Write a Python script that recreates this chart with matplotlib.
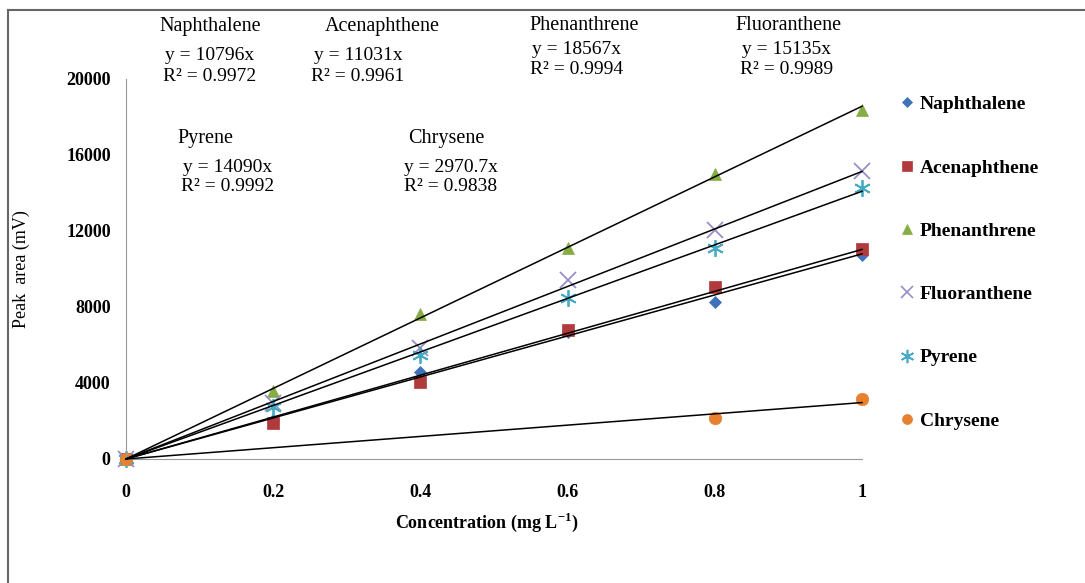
import numpy as np
import matplotlib.pyplot as plt
from matplotlib.lines import Line2D

plt.rcParams['font.family'] = ['Liberation Serif', 'DejaVu Serif']

conc = [0, 0.2, 0.4, 0.6, 0.8, 1.0]
naphthalene = [0, 2050, 4580, 6700, 8260, 10740]
acenaphthene = [0, 1890, 4050, 6790, 9050, 11050]
phenanthrene = [0, 3580, 7630, 11100, 15000, 18350]
fluoranthene = [0, 2950, 5840, 9420, 12050, 15160]
pyrene = [0, 2740, 5470, 8470, 11100, 14260]
chrysene_x = [0, 0.8, 1.0]
chrysene = [0, 2160, 3160]

names = ['Naphthalene', 'Acenaphthene', 'Phenanthrene', 'Fluoranthene', 'Pyrene', 'Chrysene']
slopes = [10796, 11031, 18567, 15135, 14090, 2970.7]
r2 = ['0.9972', '0.9961', '0.9994', '0.9989', '0.9992', '0.9838']
slope_txt = ['10796', '11031', '18567', '15135', '14090', '2970.7']

colors = ['#3f72b8', '#b13a3c', '#86ac44', '#9c8dc4', '#46aac4', '#e8812f']
markers = ['D', 's', '^', 'x', (6, 2, 0), 'o']
msizes = [6, 9, 9, 11, 12, 9]

fig = plt.figure(figsize=(10.85, 5.83), dpi=100)
ax = fig.add_axes([0.1161, 0.2127, 0.6784, 0.6518])

xs = [conc, conc, conc, conc, conc, chrysene_x]
ys = [naphthalene, acenaphthene, phenanthrene, fluoranthene, pyrene, chrysene]

xl = np.array([0, 1.0])
for s in slopes:
    ax.plot(xl, s * xl, color='black', lw=1.1, zorder=3, clip_on=False)

handles = []
for x, y, n, c, m, ms in zip(xs, ys, names, colors, markers, msizes):
    ax.plot(x, y, linestyle='none', marker=m, color=c, markersize=ms,
            markeredgewidth=1.3 if m in ('x', (6, 2, 0)) else 0.5,
            zorder=2, clip_on=False)
    handles.append(Line2D([], [], linestyle='none', marker=m, color=c,
                          markersize=ms * 0.8,
                          markeredgewidth=1.2 if m in ('x', (6, 2, 0)) else 0.5))

ax.set_xlim(0, 1)
ax.set_ylim(0, 20000)
ax.set_xticks([0, 0.2, 0.4, 0.6, 0.8, 1])
ax.set_xticklabels(['0', '0.2', '0.4', '0.6', '0.8', '1'])
ax.set_yticks([0, 4000, 8000, 12000, 16000, 20000])
ax.tick_params(length=0, labelsize=13)
ax.tick_params(axis='y', pad=11)
ax.tick_params(axis='x', pad=18)
for lab in ax.get_xticklabels() + ax.get_yticklabels():
    lab.set_fontweight('bold')
ax.spines['top'].set_visible(False)
ax.spines['right'].set_visible(False)
ax.spines['left'].set_color('#999999')
ax.spines['bottom'].set_color('#999999')

ax.set_xlabel('Concentration (mg L$^{\\mathregular{-1}}$)', fontsize=13, fontweight='bold')
ax.xaxis.set_label_coords(0.49, -0.135)
ax.set_ylabel('Peak  area (mV)', fontsize=13)
ax.yaxis.set_label_coords(-0.13, 0.5)

leg = fig.legend(handles, names, loc='upper left', bbox_to_anchor=(0.811, 0.866),
                 frameon=False, handletextpad=0.15, handlelength=1.0,
                 labelspacing=2.35, prop={'weight': 'bold', 'size': 14})

# equation labels, figure pixel positions of centres
W, H = 1085, 583
lbl_pos = [(210, 26), (382, 26), (584, 26), (789, 26), (205, 138), (446, 138)]
eq_pos = [(210, 56), (358, 56), (577, 50), (787, 49), (228, 167), (451, 167)]
for n, s, r, (lx, ly), (ex, ey) in zip(names, slope_txt, r2, lbl_pos, eq_pos):
    fig.text(lx / W, 1 - ly / H, n, ha='center', va='center', fontsize=14.5)
    fig.text(ex / W, 1 - ey / H, 'y = ' + s + 'x', ha='center', va='center', fontsize=14)
    fig.text(ex / W, 1 - (ey + 20) / H, 'R² = ' + r, ha='center', va='center', fontsize=14)

# outer frame (top and left only)
fig.add_artist(Line2D([8 / W, 1], [1 - 10 / H, 1 - 10 / H], color='#666666', lw=1.5))
fig.add_artist(Line2D([8 / W, 8 / W], [0, 1 - 10 / H], color='#666666', lw=1.5))

fig.savefig('out.png', dpi=100)
